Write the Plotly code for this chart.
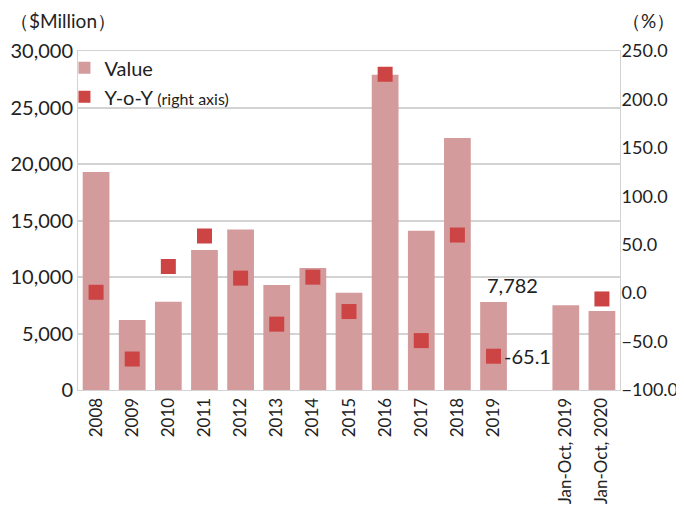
import plotly.graph_objects as go

CATEGORIES = ["2008", "2009", "2010", "2011", "2012", "2013", "2014", "2015",
              "2016", "2017", "2018", "2019", " ", "Jan-Oct, 2019", "Jan-Oct, 2020"]
VALUES = [19300, 6200, 7800, 12400, 14200, 9300, 10800, 8600,
          27900, 14100, 22300, 7782, None, 7500, 7000]
YOY = [0.9, -68.0, 27.5, 59.0, 15.5, -32.0, 16.5, -19.0,
       226.0, -49.0, 60.0, -65.1, None, None, -6.0]

BAR_COLOR = "#d49b9d"
MARK_COLOR = "#cc4444"
GRID = "#d3d3d3"
FONT = "Lato"

fig = go.Figure()
fig.add_trace(go.Bar(
    x=CATEGORIES, y=VALUES, name="Value",
    marker=dict(color=BAR_COLOR, line=dict(width=0)),
))
fig.add_trace(go.Scatter(
    x=CATEGORIES, y=YOY, name="Y-o-Y <span style='font-size:16px'>(right axis)</span>",
    mode="markers", yaxis="y2",
    marker=dict(symbol="square", size=15, color=MARK_COLOR),
))

# annotations on a category axis take the category index
i2019 = CATEGORIES.index("2019")
fig.add_annotation(x=i2019, y=VALUES[i2019], text="7,782", showarrow=False,
                   xanchor="left", xshift=-9, yanchor="bottom", yshift=3,
                   font=dict(size=20, color="#222"))
fig.add_annotation(x=i2019, y=YOY[i2019], yref="y2", text="-65.1", showarrow=False,
                   xanchor="left", xshift=8, font=dict(size=20, color="#222"))
fig.add_annotation(x=-0.129, y=1.05, xref="paper", yref="paper", text="（$Million）",
                   showarrow=False, xanchor="left", yanchor="bottom",
                   font=dict(size=19, color="#222"))
fig.add_annotation(x=1.0, y=1.05, xref="paper", yref="paper", text="（%）",
                   showarrow=False, xanchor="left", yanchor="bottom",
                   font=dict(size=19, color="#222"))

# page body adds an 8px offset, so the plot box is placed 8px up/left
fig.update_layout(
    template="plotly_white",
    width=684, height=505,
    margin=dict(l=70, r=72, t=43, b=123, autoexpand=False),
    font=dict(family=FONT, size=20, color="#222"),
    bargap=0.26,
    showlegend=True,
    legend=dict(x=-0.025, y=1.008, xanchor="left", yanchor="top",
                bgcolor="rgba(255,255,255,0)", font=dict(size=20),
                itemwidth=30, itemsizing="constant", tracegroupgap=0),
    xaxis=dict(type="category", categoryorder="array", categoryarray=CATEGORIES,
               range=[-0.5, len(CATEGORIES) - 0.5], tickangle=-90, showgrid=False,
               showline=True, linecolor=GRID, mirror=True, ticks="",
               tickfont=dict(size=17), automargin=False),
    yaxis=dict(range=[0, 30000], dtick=5000, tickformat=",d",
               showgrid=True, gridcolor=GRID, gridwidth=1.5,
               showline=True, linecolor=GRID, zeroline=False, ticks="",
               automargin=False),
    yaxis2=dict(range=[-100, 250], dtick=50, tickformat=".1f",
                overlaying="y", side="right", showgrid=False,
                zeroline=False, showline=True, linecolor=GRID, ticks="",
                tickfont=dict(size=18), ticklabelstandoff=-3, automargin=False),
    plot_bgcolor="white", paper_bgcolor="white",
)

fig.write_html("out.html")
